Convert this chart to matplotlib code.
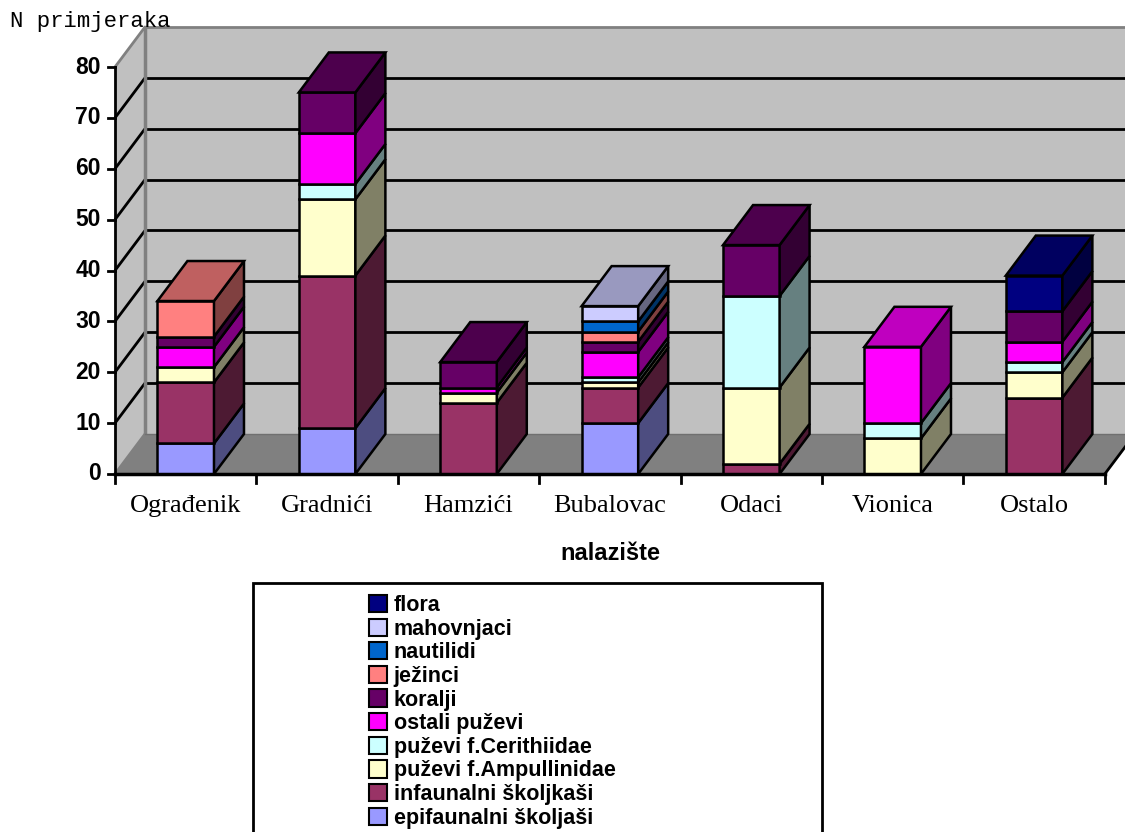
import matplotlib
matplotlib.use("Agg")
import matplotlib.pyplot as plt
from matplotlib.patches import Polygon, Rectangle, Patch
from matplotlib.colors import to_rgb

# Data
categories = ["Ograđenik", "Gradnići", "Hamzići", "Bubalovac", "Odaci", "Vionica", "Ostalo"]
epifaunalni = [6, 9, 0, 10, 0, 0, 0]
infaunalni = [12, 30, 14, 7, 2, 0, 15]
ampullinidae = [3, 15, 2, 1, 15, 7, 5]
cerithiidae = [0, 3, 0, 1, 18, 3, 2]
ostali_puzevi = [4, 10, 1, 5, 0, 15, 4]
koralji = [2, 8, 5, 2, 10, 0, 6]
jezinci = [7, 0, 0, 2, 0, 0, 0]
nautilidi = [0, 0, 0, 2, 0, 0, 0]
mahovnjaci = [0, 0, 0, 3, 0, 0, 0]
flora = [0, 0, 0, 0, 0, 0, 7]

series = [
    ("epifaunalni školjaši", epifaunalni, "#9999FF"),
    ("infaunalni školjkaši", infaunalni, "#993366"),
    ("puževi f.Ampullinidae", ampullinidae, "#FFFFCC"),
    ("puževi f.Cerithiidae", cerithiidae, "#CCFFFF"),
    ("ostali puževi", ostali_puzevi, "#FF00FF"),
    ("koralji", koralji, "#660066"),
    ("ježinci", jezinci, "#FF8080"),
    ("nautilidi", nautilidi, "#0066CC"),
    ("mahovnjaci", mahovnjaci, "#CCCCFF"),
    ("flora", flora, "#000080"),
]
yticks = [0, 10, 20, 30, 40, 50, 60, 70, 80]


def shade(c, f):
    r, g, b = to_rgb(c)
    return (r * f, g * f, b * f)


W, H = 1125, 832
fig = plt.figure(figsize=(W / 100, H / 100), dpi=100)
ax = fig.add_axes([0, 0, 1, 1])
ax.axis("off")

# pixel layout of the 3D box
px0, py0 = 115, 474       # front-left corner of floor
cat_px = 141.4            # pixels per category
unit_px = 50.875 / 10     # pixels per value unit
ax.set_xlim(-px0 / cat_px, (W - px0) / cat_px)
ax.set_ylim((py0 - H) / unit_px, py0 / unit_px)

n = len(categories)
DX = 30 / cat_px
DY = 40 / unit_px
ymax = 80

# walls and floor
ax.add_patch(Polygon([(DX, DY), (DX, ymax + DY), (n + DX, ymax + DY), (n + DX, DY)],
                     closed=True, fc="#C0C0C0", ec="none", zorder=1))
ax.add_patch(Polygon([(0, 0), (0, ymax), (DX, ymax + DY), (DX, DY)],
                     closed=True, fc="#C0C0C0", ec="none", zorder=1))
ax.add_patch(Polygon([(0, 0), (n, 0), (n + DX, DY), (DX, DY)],
                     closed=True, fc="#808080", ec="none", zorder=1))

for v in yticks:
    col = "black" if 0 < v < ymax else "#808080"
    ax.plot([0, DX], [v, v + DY], color=col, lw=2, zorder=2, solid_capstyle="butt")
    if v > 0:
        ax.plot([DX, n + DX], [v + DY, v + DY], color=col, lw=2, zorder=2)
ax.plot([DX, DX], [DY, ymax + DY], color="#808080", lw=2.5, zorder=2)
ax.plot([DX, n + DX], [DY, DY], color="#707070", lw=1, zorder=2)

# axes lines and ticks
ax.plot([0, 0], [0, ymax], color="black", lw=2, zorder=6)
ax.plot([0, n], [0, 0], color="black", lw=2.5, zorder=6)
ax.plot([n, n + DX], [0, DY], color="black", lw=2, zorder=6)
for v in yticks:
    ax.plot([-7 / cat_px, 0], [v, v], color="black", lw=2, zorder=6)
    ax.text(-14 / cat_px, v, str(v), ha="right", va="center", fontsize=16.5,
            fontweight="bold", family="Liberation Sans")
for i in range(n + 1):
    ax.plot([i, i], [0, -9 / unit_px], color="black", lw=2, zorder=6)

# stacked 3D bars
bw = 0.4
lw = 1.8
for i in range(n):
    x0 = i + 0.5 - bw / 2
    x1 = x0 + bw
    bottom = 0
    top_col = None
    for name, vals, col in series:
        h = vals[i]
        if h <= 0:
            continue
        ax.bar(x0, h, width=bw, bottom=bottom, align="edge", color=col,
               edgecolor="black", linewidth=lw, zorder=4)
        ax.add_patch(Polygon([(x1, bottom), (x1 + DX, bottom + DY),
                              (x1 + DX, bottom + h + DY), (x1, bottom + h)],
                             closed=True, fc=shade(col, 0.5), ec="black",
                             lw=lw, zorder=4, joinstyle="miter"))
        bottom += h
        top_col = col
    ax.add_patch(Polygon([(x0, bottom), (x0 + DX, bottom + DY),
                          (x1 + DX, bottom + DY), (x1, bottom)],
                         closed=True, fc=shade(top_col, 0.75), ec="black",
                         lw=lw, zorder=4, joinstyle="miter"))
    ax.text(i + 0.5, -32 / unit_px, categories[i], ha="center", va="center",
            fontsize=19, family="Liberation Serif")

ax.text(n / 2, -80 / unit_px, "nalazište", ha="center", va="center",
        fontsize=17, fontweight="bold", family="Liberation Sans")
fig.text(10 / W, 1 - 22 / H, "N primjeraka", ha="left", va="center",
         fontsize=16, family="Liberation Mono")

# legend
fig.patches.append(Rectangle((253 / W, -0.05), (822 - 253) / W, 0.05 + 1 - 583 / H,
                             transform=fig.transFigure, fill=False, ec="black",
                             lw=2, zorder=5))
handles = [Patch(fc=col, ec="black", lw=1.5, label=name) for name, vals, col in series][::-1]
leg = fig.legend(handles=handles, loc="upper left", bbox_to_anchor=(369 / W, 1 - 595 / H),
                 frameon=False, borderpad=0, borderaxespad=0, labelspacing=0.12,
                 handlelength=0.85, handleheight=0.85, handletextpad=0.3,
                 prop={"family": "Liberation Sans", "weight": "bold", "size": 15.5})

fig.savefig("out.png", dpi=100)
